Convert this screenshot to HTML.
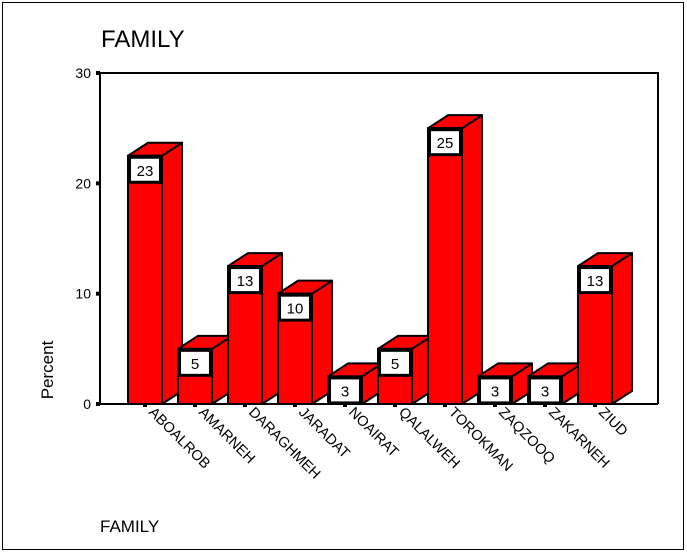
<!DOCTYPE html>
<html><head><meta charset="utf-8"><style>
html,body{margin:0;padding:0;background:#fff}
svg{display:block;font-family:"Liberation Sans",Arial,sans-serif}
</style></head><body>
<svg id="c" width="687" height="554" xmlns="http://www.w3.org/2000/svg">
<rect x="2.5" y="2.5" width="681" height="547" fill="#fff" stroke="#000" stroke-width="1"/>
<text x="101" y="47" font-size="24">FAMILY</text>
<text x="100" y="532" font-size="17">FAMILY</text>
<text transform="translate(53,370) rotate(-90)" text-anchor="middle" font-size="17">Percent</text>
<g id="g"></g>
</svg>
<script>
const categories=["ABOALROB","AMARNEH","DARAGHMEH","JARADAT","NOAIRAT","QALALWEH","TOROKMAN","ZAQZOOQ","ZAKARNEH","ZIUD"];
const values=[22.5,5,12.5,10,2.5,5,25,2.5,2.5,12.5];
const valueLabels=["23","5","13","10","3","5","25","3","3","13"];
const yTicks=[0,10,20,30];
const NS="http://www.w3.org/2000/svg";
const g=document.getElementById('g');
const X0=100,X1=658,Y0=404,Y1=73;
function y(v){return Y0-(v/30)*(Y0-Y1);}
function xc(i){return 145+i*50;}
function el(t,a){const e=document.createElementNS(NS,t);for(const k in a)e.setAttribute(k,a[k]);g.appendChild(e);return e;}
let f=el('polyline',{points:`${X0},${Y0} ${X0},${Y1} ${X1},${Y1} ${X1},${Y0}`,fill:'none',stroke:'#000','stroke-width':2});


yTicks.forEach(t=>{
  const r=el('rect',{x:X0-4,y:y(t)-2,width:4,height:4,fill:'#000'});
  
  
  const tx=el('text',{x:X0-9,y:y(t)+5,'text-anchor':'end','font-size':14});
  tx.textContent=t;
  
  
});
const W=34,DX=20,DY=13;
values.forEach((v,i)=>{
  const l=xc(i)-17, r=l+W, top=y(v);
  const side=el('polygon',{points:`${r},${Y0} ${r},${top} ${r+DX},${top-DY} ${r+DX},${Y0-DY}`,fill:'#f00',stroke:'#000','stroke-width':2,'stroke-linejoin':'round'});
  
  
  const tp=el('polygon',{points:`${l},${top} ${l+DX},${top-DY} ${r+DX},${top-DY} ${r},${top}`,fill:'#f00',stroke:'#000','stroke-width':2,'stroke-linejoin':'round'});
  
  
  const fr=el('rect',{x:l,y:top,width:W,height:Y0-top,fill:'#f00',stroke:'#000','stroke-width':2});
  
  
  const lb=el('rect',{x:l+1.5,y:top+1.5,width:31,height:25,fill:'#fff',stroke:'#000','stroke-width':3});
  
  
  const lt=el('text',{x:l+17,y:top+20,'text-anchor':'middle','font-size':15});
  lt.textContent=valueLabels[i];
  
  
  const tk=el('rect',{x:xc(i)-2,y:Y0,width:4,height:3,fill:'#000'});
  
  
  const ct=el('text',{x:0,y:0,'font-size':14.5,transform:`translate(${xc(i)+3},${Y0+9}) rotate(45)`});
  ct.textContent=categories[i];
  
  
});
let bl=el('line',{x1:X0-4,y1:Y0,x2:X1,y2:Y0,stroke:'#000','stroke-width':2});


</script>
</body></html>
